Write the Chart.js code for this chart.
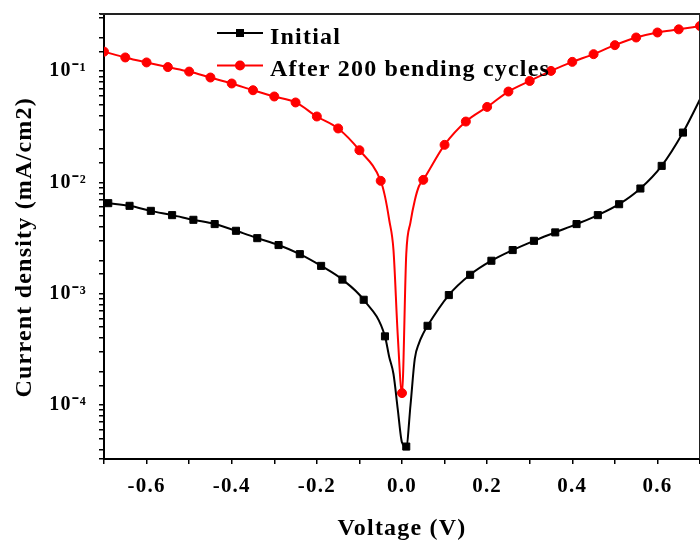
<!DOCTYPE html>
<html><head><meta charset="utf-8">
<script src="https://cdn.jsdelivr.net/npm/chart.js@4"></script>
<style>html,body{margin:0;padding:0;background:#fff;overflow:hidden;}#wrap{position:relative;width:706px;height:546px;}</style>
</head><body><div id="wrap"><canvas id="c"></canvas></div>
<script>
// ---- data ----
const seriesNames = ['Initial', 'After 200 bending cycles'];
const voltageInitial = [-0.70, -0.69, -0.64, -0.59, -0.54, -0.49, -0.44, -0.39, -0.34, -0.29, -0.24, -0.19, -0.14, -0.09, -0.04, -0.03, -0.02, -0.01, 0.00, 0.01, 0.02, 0.03, 0.04, 0.05, 0.06, 0.11, 0.16, 0.21, 0.26, 0.31, 0.36, 0.41, 0.46, 0.51, 0.56, 0.61, 0.66, 0.71];
const densityInitial = [6.59e-3, 6.52e-3, 6.17e-3, 5.56e-3, 5.09e-3, 4.62e-3, 4.23e-3, 3.68e-3, 3.16e-3, 2.74e-3, 2.27e-3, 1.78e-3, 1.34e-3, 8.83e-4, 4.14e-4, 2.7e-4, 1.9e-4, 9.2e-5, 4.6e-5, 4.23e-5, 1.0e-4, 2.6e-4, 3.6e-4, 4.4e-4, 5.15e-4, 9.73e-4, 1.48e-3, 1.98e-3, 2.47e-3, 2.99e-3, 3.56e-3, 4.23e-3, 5.09e-3, 6.38e-3, 8.83e-3, 1.41e-2, 2.81e-2, 6.67e-2];
const voltageBent = [-0.70, -0.65, -0.60, -0.55, -0.50, -0.45, -0.40, -0.35, -0.30, -0.25, -0.20, -0.15, -0.10, -0.05, -0.04, -0.03, -0.02, -0.01, 0.00, 0.01, 0.02, 0.03, 0.04, 0.05, 0.10, 0.15, 0.20, 0.25, 0.30, 0.35, 0.40, 0.45, 0.50, 0.55, 0.60, 0.65, 0.70];
const densityBent = [0.150, 0.133, 0.120, 0.109, 0.0993, 0.0878, 0.0776, 0.0675, 0.0593, 0.0524, 0.0392, 0.0306, 0.0195, 0.01035, 7.5e-3, 4.6e-3, 2.47e-3, 4.25e-4, 1.28e-4, 2.27e-3, 4.4e-3, 6.9e-3, 9.3e-3, 0.01056, 0.0218, 0.0353, 0.0478, 0.0657, 0.0818, 0.1007, 0.1214, 0.1424, 0.1716, 0.201, 0.223, 0.238, 0.255];
const xTickLabels = ['-0.6', '-0.4', '-0.2', '0.0', '0.2', '0.4', '0.6'];
const yTickLabels = ['10\u207B\u2074', '10\u207B\u00B3', '10\u207B\u00B2', '10\u207B\u00B9'];
const yTickExponents = [-4, -3, -2, -1];
const axisTitles = ['Voltage (V)', 'Current density (mA/cm2)'];
// every 5th measured point carries a marker; phase per series (in 0.01 V steps)
const markerPhase = [1, 0];

const FONT = 'Liberation Serif';

function isMarker(v, phase) {
  const n = Math.round(v * 100);
  return (((n % 5) + 5) % 5) === phase;
}

const spacingPlugin = {
  id: 'spacing',
  beforeUpdate(c) { c.ctx.letterSpacing = '1.2px'; },
  beforeDraw(c) { c.ctx.letterSpacing = '1.2px'; }
};

const framePlugin = {
  id: 'frame',
  afterDraw(chart) {
    const {ctx, chartArea: a} = chart;
    ctx.save();
    ctx.strokeStyle = '#222';
    ctx.lineWidth = 2;
    ctx.beginPath();
    ctx.moveTo(a.left - 4, a.top);
    ctx.lineTo(a.right, a.top);
    ctx.lineTo(a.right, a.bottom);
    ctx.stroke();
    ctx.restore();
  }
};

const legendPlugin = {
  id: 'innerLegend',
  afterDatasetsDraw(chart) {
    const {ctx, chartArea: a} = chart;
    chart.data.datasets.forEach((ds, i) => {
      const y = a.top + 19 + i * 32.5;
      const x0 = a.left + 113, x1 = x0 + 46, xm = (x0 + x1) / 2;
      ctx.save();
      ctx.strokeStyle = ds.borderColor;
      ctx.lineWidth = 2;
      ctx.beginPath(); ctx.moveTo(x0, y); ctx.lineTo(x1, y); ctx.stroke();
      ctx.fillStyle = ds.borderColor;
      if (ds.pointStyle === 'rect') {
        ctx.fillRect(xm - 4, y - 4, 8, 8);
      } else {
        ctx.beginPath(); ctx.arc(xm, y, 5, 0, Math.PI * 2); ctx.fill();
      }
      ctx.letterSpacing = '1.2px';
      ctx.font = 'bold 24px "' + FONT + '"';
      ctx.textBaseline = 'alphabetic';
      ctx.textAlign = 'left';
      ctx.fillStyle = '#000';
      ctx.fillText(ds.label, x1 + 7, y + 10.5);
      ctx.restore();
    });
  }
};

function pts(xs, ys) { return xs.map((x, i) => ({x: x, y: ys[i]})); }

const chart = new Chart(document.getElementById('c'), {
  type: 'line',
  data: {
    datasets: [
      {
        label: seriesNames[0],
        data: pts(voltageInitial, densityInitial),
        borderColor: '#000', backgroundColor: '#000',
        borderWidth: 2, pointStyle: 'rect',
        pointRadius: (c) => (c.raw && isMarker(c.raw.x, markerPhase[0])) ? 5 : 0,
        pointBorderWidth: 1, pointBorderColor: '#000',
        cubicInterpolationMode: 'monotone', order: 1
      },
      {
        label: seriesNames[1],
        data: pts(voltageBent, densityBent),
        borderColor: '#ff0000', backgroundColor: '#ff0000',
        borderWidth: 2, pointStyle: 'circle',
        pointRadius: (c) => (c.raw && isMarker(c.raw.x, markerPhase[1])) ? 4.5 : 0,
        pointBorderWidth: 1, pointBorderColor: '#ff0000',
        cubicInterpolationMode: 'monotone', order: 0
      }
    ]
  },
  options: {
    responsive: true,
    maintainAspectRatio: false,
    animation: false,
    events: [],
    layout: {padding: {top: 14, right: 1, left: 0, bottom: 0}},
    plugins: {legend: {display: false}, tooltip: {enabled: false}},
    scales: {
      x: {
        type: 'linear', min: -0.7, max: 0.7,
        afterFit: (s) => { s.height = 87; s.paddingRight = 0; s.paddingLeft = 0; },
        border: {display: true, color: '#000', width: 2},
        grid: {drawOnChartArea: false, drawTicks: true, tickLength: 5, color: '#000', lineWidth: 1.5},
        ticks: {
          stepSize: 0.1, autoSkip: false, maxRotation: 0, padding: 10, color: '#000',
          font: {family: FONT, size: 21, weight: 'bold'},
          callback: (v) => { const s = (Math.round(v * 10) / 10).toFixed(1); return xTickLabels.includes(s) ? s : ''; }
        },
        title: {display: true, text: axisTitles[0], color: '#000', font: {family: FONT, size: 24, weight: 'bold'}, padding: {top: 0, bottom: 3}}
      },
      y: {
        type: 'logarithmic', min: 3.27e-5, max: 0.327,
        afterFit: (s) => { s.width = 104; s.paddingTop = 0; s.paddingBottom = 0; },
        border: {display: true, color: '#000', width: 2},
        grid: {drawOnChartArea: false, drawTicks: true, tickLength: 5, color: '#000', lineWidth: 1.5},
        ticks: {
          autoSkip: false, padding: 12, color: '#000',
          font: {family: FONT, size: 20, weight: 'bold'},
          callback: (v) => {
            const e = Math.log10(v);
            if (Math.abs(e - Math.round(e)) > 1e-6) return '';
            const k = yTickExponents.indexOf(Math.round(e));
            return k >= 0 ? yTickLabels[k] : '';
          }
        },
        title: {display: true, text: axisTitles[1] + '   ', color: '#000', font: {family: FONT, size: 24, weight: 'bold'}, padding: {top: 10, bottom: 0}}
      }
    }
  },
  plugins: [spacingPlugin, framePlugin, legendPlugin]
});
</script>
</body></html>
